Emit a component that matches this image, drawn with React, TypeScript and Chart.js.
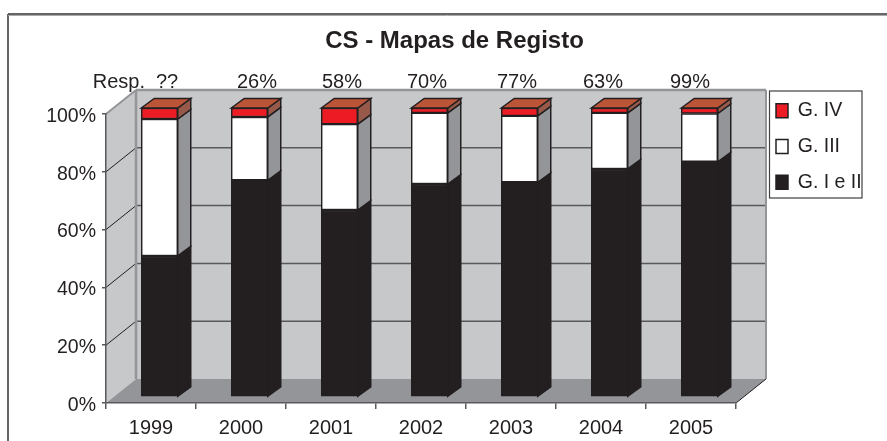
import React, { useEffect, useRef } from "react";
import { Chart, registerables } from "chart.js";

Chart.register(...registerables);

const years = ["1999", "2000", "2001", "2002", "2003", "2004", "2005"];
const gradeOneTwo = [48.8, 75, 64.7, 73.7, 74.3, 78.9, 81.4];
const gradeThree = [47.4, 21.9, 29.7, 24.6, 23, 19.4, 16.7];
const gradeFour = [3.8, 3.1, 5.6, 1.7, 2.7, 1.7, 1.9];
const responses = ["??", "26%", "58%", "70%", "77%", "63%", "99%"];
const responseOffsets = [16, 16, 11, 6, 6, 2, -1];

const INK = "#231f20";
const WALL = "#c7c8ca";
const FLOOR = "#939598";
const GRID = "#58595b";
const FONT = "'Liberation Sans', Arial, sans-serif";

// 3D geometry: depth of the plot box, depth of a bar, shift of bars off the front plane
const WALL_DX = 30;
const WALL_DY = -24;
const BAR_DX = 13;
const BAR_DY = -9.5;
const SHIFT_X = 8.5;
const SHIFT_Y = -6;

const sideColors = [INK, FLOOR, "#96594a"];
const TOP_COLOR = "#bc5437";

function poly(ctx: CanvasRenderingContext2D, pts: number[][], fill?: string, stroke?: string, lw = 1.5) {
  ctx.beginPath();
  pts.forEach((p, i) => (i ? ctx.lineTo(p[0], p[1]) : ctx.moveTo(p[0], p[1])));
  ctx.closePath();
  if (fill) {
    ctx.fillStyle = fill;
    ctx.fill();
  }
  if (stroke) {
    ctx.strokeStyle = stroke;
    ctx.lineWidth = lw;
    ctx.stroke();
  }
}

function line(ctx: CanvasRenderingContext2D, x1: number, y1: number, x2: number, y2: number, color: string, lw: number) {
  ctx.beginPath();
  ctx.moveTo(x1, y1);
  ctx.lineTo(x2, y2);
  ctx.strokeStyle = color;
  ctx.lineWidth = lw;
  ctx.stroke();
}

const box3d = {
  id: "box3d",
  afterLayout(chart: any) {
    const lg = chart.legend;
    const pad = lg.options.labels.padding;
    lg.left = 776 - pad;
    lg.right = 887;
    lg.top = 101 - pad;
    lg.bottom = 300;
    chart.titleBlock.left = 22;
    chart.titleBlock.right = 887;
  },
  beforeDraw(chart: any) {
    const { ctx, scales, chartArea: a } = chart;
    const y = scales.y;
    const { left: l, right: r, top: t, bottom: b } = a;
    const dx = WALL_DX;
    const dy = WALL_DY;
    ctx.save();
    ctx.fillStyle = "#fff";
    ctx.fillRect(0, 0, chart.width, chart.height);
    // outer frame
    line(ctx, 8, 441, 8, 14, "#333333", 1.5);
    line(ctx, 8, 14, 887, 14, "#333333", 1.5);
    line(ctx, 8, 15.5, 887, 15.5, "#a7a9ac", 1);
    // walls and floor
    poly(ctx, [[l + dx, t + dy], [r + dx, t + dy], [r + dx, b + dy], [l + dx, b + dy]], WALL);
    poly(ctx, [[l, t], [l + dx, t + dy], [l + dx, b + dy], [l, b]], WALL);
    poly(ctx, [[l, b], [l + dx, b + dy], [r + dx, b + dy], [r, b]], FLOOR);
    // gridlines
    [20, 40, 60, 80].forEach((v) => {
      const py = y.getPixelForValue(v);
      line(ctx, l + dx, py + dy, r + dx, py + dy, GRID, 1.5);
      line(ctx, l, py, l + dx, py + dy, INK, 1);
    });
    // box edges
    line(ctx, l, t, l + dx, t + dy, FLOOR, 2);
    line(ctx, l + dx, t + dy, r + dx, t + dy, FLOOR, 2.5);
    line(ctx, r + dx, t + dy, r + dx, b + dy, FLOOR, 2);
    line(ctx, l + dx, t + dy, l + dx, b + dy, FLOOR, 2.5);
    line(ctx, r, b, r + dx, b + dy, INK, 1);
    // legend frame
    ctx.fillStyle = "#fff";
    ctx.fillRect(769.5, 91, 92.5, 107);
    ctx.strokeStyle = "#414042";
    ctx.lineWidth = 1.2;
    ctx.strokeRect(769.5, 91, 92.5, 107);
    ctx.restore();
  },
  beforeDatasetsDraw(chart: any) {
    const { ctx } = chart;
    ctx.save();
    ctx.translate(SHIFT_X, SHIFT_Y);
    ctx.lineJoin = "miter";
    chart.data.datasets.forEach((_: any, di: number) => {
      chart.getDatasetMeta(di).data.forEach((bar: any) => {
        const p = bar.getProps(["x", "y", "base", "width"], true);
        const right = p.x + p.width / 2;
        poly(
          ctx,
          [[right, p.y], [right + BAR_DX, p.y + BAR_DY], [right + BAR_DX, p.base + BAR_DY], [right, p.base]],
          sideColors[di],
          INK
        );
      });
    });
    const last = chart.getDatasetMeta(chart.data.datasets.length - 1).data;
    last.forEach((bar: any) => {
      const p = bar.getProps(["x", "y", "base", "width"], true);
      const lft = p.x - p.width / 2;
      const right = p.x + p.width / 2;
      poly(
        ctx,
        [[lft, p.y], [lft + BAR_DX, p.y + BAR_DY], [right + BAR_DX, p.y + BAR_DY], [right, p.y]],
        TOP_COLOR,
        INK
      );
    });
    ctx.restore();
  },
  beforeDatasetDraw(chart: any) {
    chart.ctx.save();
    chart.ctx.translate(SHIFT_X, SHIFT_Y);
  },
  afterDatasetDraw(chart: any) {
    chart.ctx.restore();
  },
  afterDraw(chart: any) {
    const { ctx, scales } = chart;
    ctx.save();
    ctx.fillStyle = INK;
    ctx.font = `20px ${FONT}`;
    ctx.textBaseline = "middle";
    ctx.textAlign = "right";
    ctx.fillText("Resp.", 145, 82);
    ctx.textAlign = "center";
    responses.forEach((txt, i) => {
      ctx.fillText(txt, scales.x.getPixelForValue(i) + responseOffsets[i], 82);
    });
    ctx.restore();
  },
};

export default function App() {
  const ref = useRef<HTMLCanvasElement>(null);

  useEffect(() => {
    const barBase = { clip: false as any, barThickness: 36.5, borderSkipped: false as any };
    const chart = new Chart(ref.current as HTMLCanvasElement, {
      type: "bar",
      data: {
        labels: years,
        datasets: [
          { label: "G. I e II", data: gradeOneTwo, backgroundColor: INK, borderColor: INK, borderWidth: 1.5, ...barBase },
          { label: "G. III", data: gradeThree, backgroundColor: "#ffffff", borderColor: INK, borderWidth: 1.5, ...barBase },
          { label: "G. IV", data: gradeFour, backgroundColor: "#ed1c24", borderColor: INK, borderWidth: 1.5, ...barBase },
        ],
      },
      plugins: [box3d],
      options: {
        animation: false,
        responsive: false,
        events: [],
        layout: { autoPadding: false, padding: { top: 14, left: 30, right: 51, bottom: 0 } },
        plugins: {
          tooltip: { enabled: false },
          title: {
            display: true,
            text: "CS - Mapas de Registo",
            color: INK,
            font: { family: FONT, size: 24, weight: "bold", lineHeight: 1.2 },
            padding: { top: 13, bottom: 58.2 },
          },
          legend: {
            position: "right",
            align: "start",
            reverse: true,
            maxWidth: 100,
            labels: {
              color: INK,
              font: { family: FONT, size: 19.5 },
              boxWidth: 12,
              boxHeight: 14,
              padding: 16.2,
            },
          },
        },
        scales: {
          x: {
            stacked: true,
            afterFit: (s: any) => {
              s.height = 38;
            },
            border: { color: GRID, width: 1.5 },
            grid: { drawOnChartArea: false, drawTicks: true, tickLength: 6, color: GRID, lineWidth: 1.5 },
            ticks: { color: INK, font: { family: FONT, size: 20 }, padding: 7, maxRotation: 0 },
          },
          y: {
            stacked: true,
            min: 0,
            max: 100,
            afterFit: (s: any) => {
              s.width = 76;
            },
            border: { color: GRID, width: 1.5 },
            grid: { drawOnChartArea: false, drawTicks: true, tickLength: 4, color: GRID, lineWidth: 1.5 },
            ticks: {
              stepSize: 20,
              color: INK,
              font: { family: FONT, size: 19.5 },
              padding: 6,
              labelOffset: 2.5,
              callback: (v: any) => `${v}%`,
            },
          },
        },
      },
    } as any);
    return () => chart.destroy();
  }, []);

  return (
    <canvas
      ref={ref}
      width={887}
      height={441}
      style={{ position: "fixed", left: 0, top: 0, width: 887, height: 441 }}
    />
  );
}
